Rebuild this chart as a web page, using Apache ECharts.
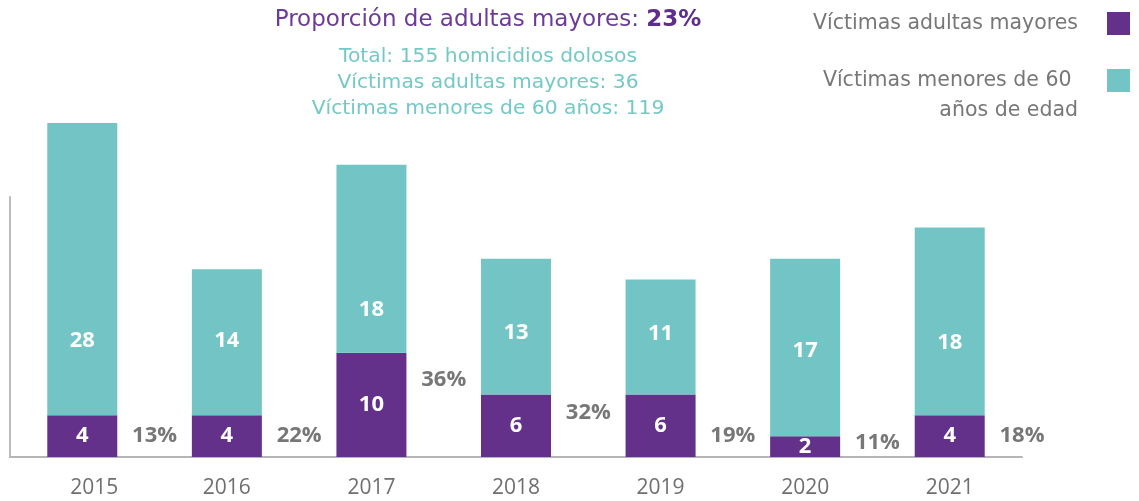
<!DOCTYPE html>
<html><head><meta charset="utf-8">
<script src="https://cdn.jsdelivr.net/npm/echarts@6/dist/echarts.min.js"></script>
<style>html,body{margin:0;padding:0;background:#fff}#c{width:1139px;height:501px}</style>
</head><body><div id="c"></div>
<script>
const years = ['2015','2016','2017','2018','2019','2020','2021'];
const adultasMayores = [4, 4, 10, 6, 6, 2, 4];
const menores60 = [28, 14, 18, 13, 11, 17, 18];
const proporcion = ['13%', '22%', '36%', '32%', '19%', '11%', '18%'];
// vertical placement (axis units) of labels as drawn in the reference
const proporcionLabelY = [2.0, 2.0, 7.4, 4.2, 2.0, 1.4, 2.0];
const menoresLabelY = [11.1, 11.1, 14.1, 11.9, 11.8, 10.2, 10.9];
const titleText = 'Proporción de adultas mayores: ';
const titleValue = '23%';
const summaryLines = ['Total: 155 homicidios dolosos', 'Víctimas adultas mayores: 36', 'Víctimas menores de 60 años: 119'];
const legendNames = ['Víctimas adultas mayores', 'Víctimas menores de 60 años de edad'];
const legendLabels = ['Víctimas adultas mayores', '\nVíctimas menores de 60 \naños de edad'];

const FONT = "'Open Sans', sans-serif";
const TFONT = "'DejaVu Sans', sans-serif";
const PURPLE = '#633189';
const TEAL = '#72c5c4';

const chart = echarts.init(document.getElementById('c'));
const legendBase = {
  orient: 'vertical', right: 9, padding: 0, itemWidth: 23, itemHeight: 23,
  align: 'right', icon: 'rect', selectedMode: false,
  formatter: n => legendLabels[legendNames.indexOf(n)]
};
const labelSeries = (xIdx, data, color) => ({
  type: 'scatter', silent: true, xAxisIndex: xIdx, symbolSize: 1, z: 5,
  itemStyle: { color: 'transparent', opacity: 1 },
  data: data,
  label: { show: true, position: 'inside', formatter: p => p.value[2], color: color, opacity: 1,
    textBorderWidth: 0, fontSize: 22, fontWeight: 'bold', fontFamily: FONT }
});
chart.setOption({
  animation: false,
  color: [PURPLE, TEAL],
  graphic: [
    { type: 'text', x: 488, y: 20, style: {
        text: '{a|' + titleText + '}{b|' + titleValue + '}',
        align: 'center', verticalAlign: 'middle',
        rich: {
          a: { fontSize: 23, fontFamily: TFONT, fill: '#6b3b97' },
          b: { fontSize: 23, fontFamily: TFONT, fontWeight: 'bold', fill: '#5f2d8b' }
        } } },
    { type: 'text', x: 488, y: 44, style: {
        text: summaryLines.join('\n'), align: 'center', verticalAlign: 'top',
        lineHeight: 26, fontSize: 20.3, fontFamily: TFONT, fill: '#74c9c7' } }
  ],
  legend: [
    Object.assign({}, legendBase, { top: 11.5, data: [{ name: legendNames[0] }],
      textStyle: { color: '#777', fontSize: 20.5, fontFamily: TFONT, lineHeight: 24, padding: [0, 24, 0, 0] } }),
    Object.assign({}, legendBase, { top: 35.5, data: [{ name: legendNames[1] }],
      textStyle: { color: '#777', fontSize: 20.5, fontFamily: TFONT, lineHeight: 30, padding: [0, 24, 0, 0] } })
  ],
  grid: [
    { left: 10, right: 117, top: 123, bottom: 44 },
    { left: 10, right: 117, top: 197, bottom: 44 }
  ],
  xAxis: [
    { type: 'category', gridIndex: 0, data: years.map((y, i) => i === 0 ? { value: y, textStyle: { padding: [0, 0, 0, 24] } } : y),
      axisLine: { lineStyle: { color: '#b5b5b5', width: 2 } },
      axisTick: { inside: true, length: 6, lineStyle: { color: '#999' } },
      axisLabel: { color: '#6f6f6f', fontSize: 21, fontFamily: FONT, margin: 21 } },
    { type: 'value', gridIndex: 0, min: 0, max: 7, show: false },
    { type: 'category', gridIndex: 1, data: years, show: false }
  ],
  yAxis: [
    { type: 'value', gridIndex: 0, min: 0, max: 32, show: false },
    { type: 'value', gridIndex: 1, min: 0, max: 1, axisLine: { show: true, lineStyle: { color: '#bbb', width: 2 } },
      axisTick: { show: false }, axisLabel: { show: false }, splitLine: { show: false } }
  ],
  series: [
    { name: legendNames[0], type: 'bar', stack: 'v', barWidth: 70, data: adultasMayores,
      label: { show: true, position: 'inside', color: '#fff', fontSize: 22, fontWeight: 'bold', fontFamily: FONT } },
    { name: legendNames[1], type: 'bar', stack: 'v', barWidth: 70, data: menores60 },
    labelSeries(0, menoresLabelY.map((y, i) => [i, y, menores60[i]]), '#fff'),
    labelSeries(1, proporcionLabelY.map((y, i) => [i + 1, y, proporcion[i]]), '#777')
  ]
});
</script></body></html>
